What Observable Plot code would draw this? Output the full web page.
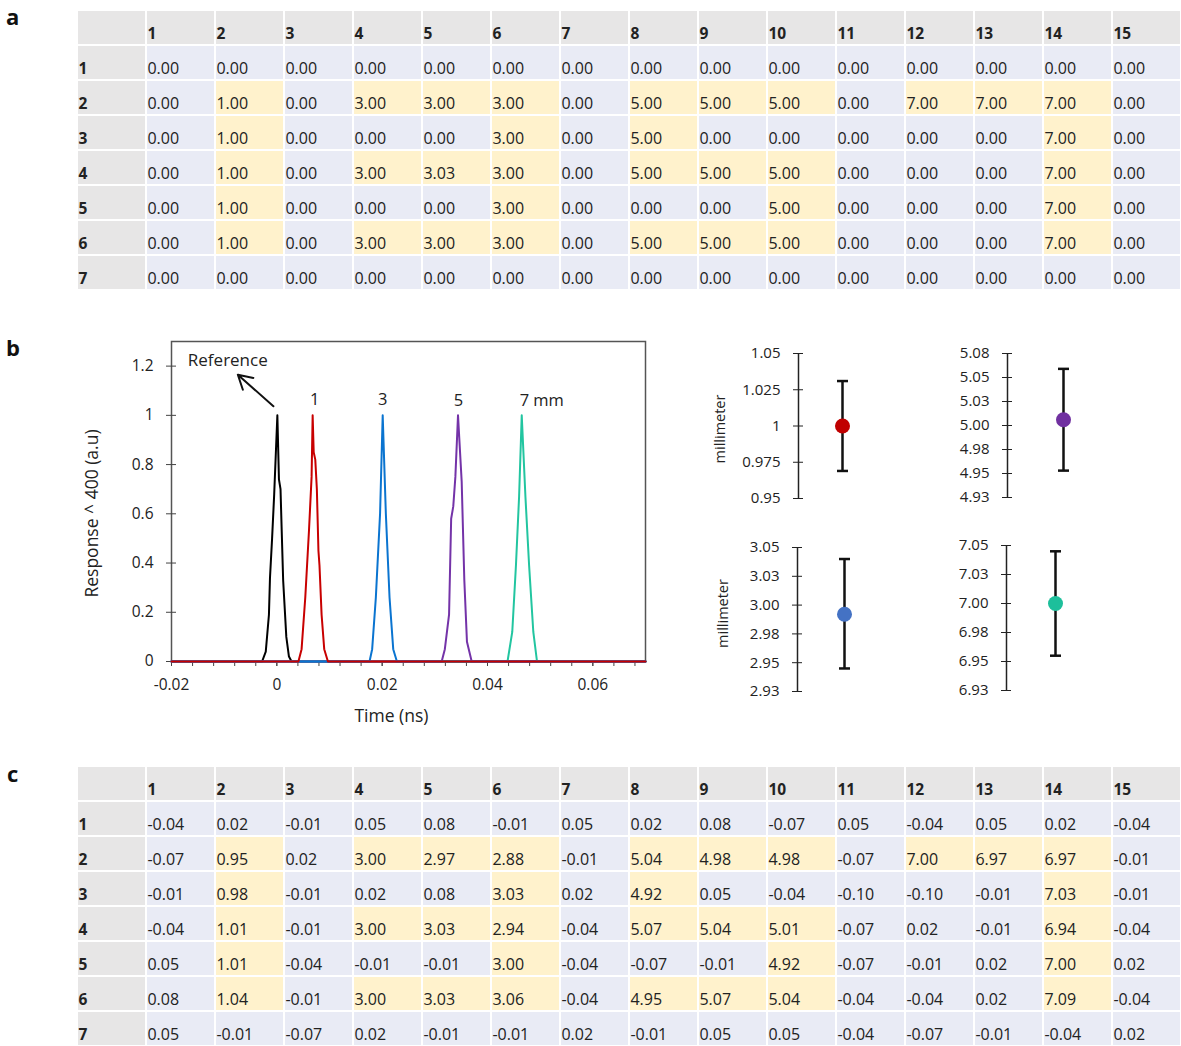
<!DOCTYPE html>
<html>
<head>
<meta charset="utf-8">
<script src="https://cdn.jsdelivr.net/npm/d3@7"></script>
<script src="https://cdn.jsdelivr.net/npm/@observablehq/plot@0.6"></script>
<style>
  html, body { margin: 0; padding: 0; background: #fff; }
  #root { position: relative; width: 1181px; height: 1046px; overflow: hidden; background: #fff; font-family: "Open Sans", sans-serif; }
  .panel { position: absolute; font-weight: bold; font-size: 22px; color: #111; line-height: 1; }
  .box { position: absolute; }
  .box svg { display: block; overflow: visible; max-width: none; }
</style>
</head>
<body>
<div id="root">
  <div class="panel" style="left:6px;top:5px;">a</div>
  <div class="panel" style="left:6px;top:336px;">b</div>
  <div class="panel" style="left:7px;top:762px;">c</div>
  <div class="box" id="tableA" style="left:76px;top:7px;"></div>
  <div class="box" id="chartB" style="left:60px;top:330px;"></div>
  <div class="box" id="err1" style="left:700px;top:340px;"></div>
  <div class="box" id="err5" style="left:910px;top:340px;"></div>
  <div class="box" id="err3" style="left:700px;top:534px;"></div>
  <div class="box" id="err7" style="left:910px;top:532px;"></div>
  <div class="box" id="tableC" style="left:76px;top:763px;"></div>
</div>
<script>
// ---------- Table data ----------
const colLabels = ["1","2","3","4","5","6","7","8","9","10","11","12","13","14","15"];
const rowLabels = ["1","2","3","4","5","6","7"];

const tableA = [
  [0.00,0.00,0.00,0.00,0.00,0.00,0.00,0.00,0.00,0.00,0.00,0.00,0.00,0.00,0.00],
  [0.00,1.00,0.00,3.00,3.00,3.00,0.00,5.00,5.00,5.00,0.00,7.00,7.00,7.00,0.00],
  [0.00,1.00,0.00,0.00,0.00,3.00,0.00,5.00,0.00,0.00,0.00,0.00,0.00,7.00,0.00],
  [0.00,1.00,0.00,3.00,3.03,3.00,0.00,5.00,5.00,5.00,0.00,0.00,0.00,7.00,0.00],
  [0.00,1.00,0.00,0.00,0.00,3.00,0.00,0.00,0.00,5.00,0.00,0.00,0.00,7.00,0.00],
  [0.00,1.00,0.00,3.00,3.00,3.00,0.00,5.00,5.00,5.00,0.00,0.00,0.00,7.00,0.00],
  [0.00,0.00,0.00,0.00,0.00,0.00,0.00,0.00,0.00,0.00,0.00,0.00,0.00,0.00,0.00]
];

const tableC = [
  [-0.04,0.02,-0.01,0.05,0.08,-0.01,0.05,0.02,0.08,-0.07,0.05,-0.04,0.05,0.02,-0.04],
  [-0.07,0.95,0.02,3.00,2.97,2.88,-0.01,5.04,4.98,4.98,-0.07,7.00,6.97,6.97,-0.01],
  [-0.01,0.98,-0.01,0.02,0.08,3.03,0.02,4.92,0.05,-0.04,-0.10,-0.10,-0.01,7.03,-0.01],
  [-0.04,1.01,-0.01,3.00,3.03,2.94,-0.04,5.07,5.04,5.01,-0.07,0.02,-0.01,6.94,-0.04],
  [0.05,1.01,-0.04,-0.01,-0.01,3.00,-0.04,-0.07,-0.01,4.92,-0.07,-0.01,0.02,7.00,0.02],
  [0.08,1.04,-0.01,3.00,3.03,3.06,-0.04,4.95,5.07,5.04,-0.04,-0.04,0.02,7.09,-0.04],
  [0.05,-0.01,-0.07,0.02,-0.01,-0.01,0.02,-0.01,0.05,0.05,-0.04,-0.07,-0.01,-0.04,0.02]
];

// ---------- Panel b: response curves ----------
const refT = [-0.02, -0.0028, -0.0021, -0.0015, -0.0013, -0.0009, -0.0005, 0.0001, 0.0004, 0.0007, 0.0009, 0.0012, 0.0018, 0.0023, 0.0028, 0.07];
const refR = [0, 0, 0.04, 0.19, 0.34, 0.5, 0.68, 1.0, 0.74, 0.7, 0.55, 0.33, 0.1, 0.02, 0, 0];
const mm1T = [-0.02, 0.0041, 0.0047, 0.0054, 0.0061, 0.0066, 0.0068, 0.0070, 0.0073, 0.0076, 0.0079, 0.0081, 0.0085, 0.0090, 0.0097, 0.07];
const mm1R = [0, 0, 0.05, 0.26, 0.53, 0.75, 1.0, 0.85, 0.82, 0.7, 0.45, 0.39, 0.19, 0.05, 0, 0];
const mm3T = [-0.02, 0.0176, 0.0181, 0.0188, 0.0196, 0.0201, 0.0207, 0.0214, 0.0221, 0.0228, 0.07];
const mm3R = [0, 0, 0.05, 0.26, 0.6, 1.0, 0.6, 0.26, 0.05, 0, 0];
const mm5T = [-0.02, 0.0313, 0.0319, 0.0327, 0.0331, 0.0335, 0.0339, 0.0344, 0.0351, 0.0356, 0.0361, 0.0370, 0.07];
const mm5R = [0, 0, 0.05, 0.19, 0.58, 0.63, 0.75, 1.0, 0.73, 0.33, 0.08, 0, 0];
const mm7T = [-0.02, 0.0438, 0.0447, 0.0454, 0.0460, 0.0465, 0.0472, 0.0479, 0.0487, 0.0494, 0.07];
const mm7R = [0, 0, 0.12, 0.39, 0.67, 1.0, 0.67, 0.39, 0.12, 0, 0];

const seriesNames = ["Reference", "7 mm", "5 mm", "3 mm", "1 mm"]; // drawing order
const seriesColors = ["#000000", "#22c5a0", "#7433a8", "#0a74d0", "#c80000"];

const peakLabels = ["1", "3", "5", "7 mm"];
const peakLabelT = [0.0072, 0.0201, 0.0345, 0.0461];
const peakLabelR = [1.065, 1.065, 1.058, 1.058];
const refLabel = ["Reference"];
const refLabelT = [-0.0169];
const refLabelR = [1.222];
const arrowFromT = [-0.00065], arrowFromR = [1.037];
const arrowToT = [-0.0074], arrowToR = [1.165];

const xMajorTicks = [-0.02, 0, 0.02, 0.04, 0.06];
const yTicks = [0, 0.2, 0.4, 0.6, 0.8, 1, 1.2];

// ---------- Panel b: error-bar summaries ----------
const errNames = ["1 mm", "3 mm", "5 mm", "7 mm"];
const errMeans = [1.000, 2.992, 5.006, 7.000];
const errLow   = [0.969, 2.945, 4.953, 6.955];
const errHigh  = [1.031, 3.040, 5.059, 7.045];
const errColors = ["#c00000", "#4472c4", "#7030a0", "#1dbf9b"];
const errTicks1 = [0.95, 0.975, 1, 1.025, 1.05];
const errLabels1 = ["0.95", "0.975", "1", "1.025", "1.05"];
const errTicks3 = [2.925, 2.95, 2.975, 3.0, 3.025, 3.05];
const errLabels3 = ["2.93", "2.95", "2.98", "3.00", "3.03", "3.05"];
const errTicks5 = [4.925, 4.95, 4.975, 5.0, 5.025, 5.05, 5.075];
const errLabels5 = ["4.93", "4.95", "4.98", "5.00", "5.03", "5.05", "5.08"];
const errTicks7 = [6.925, 6.95, 6.975, 7.0, 7.025, 7.05];
const errLabels7 = ["6.93", "6.95", "6.98", "7.00", "7.03", "7.05"];

// ---------- Colours ----------
const headFill = "#e7e6e6", bodyFill = "#e9ebf5", hiFill = "#fff2cc", textCol = "#222";

// ---------- Table builder ----------
function makeTable(values, mask) {
  const W = 1105, H = 286;
  const xDom = [""].concat(colLabels);
  const yDom = [""].concat(rowLabels);
  const bw = W / xDom.length;
  const cells = [];
  const texts = [];
  const heads = [];
  cells.push({c: "", r: "", fill: headFill});
  colLabels.forEach(c => { cells.push({c, r: "", fill: headFill}); heads.push({c, r: "", t: c}); });
  rowLabels.forEach((r, i) => {
    cells.push({c: "", r, fill: headFill});
    heads.push({c: "", r, t: r});
    colLabels.forEach((c, j) => {
      const hi = mask[i][j] !== 0;
      cells.push({c, r, fill: hi ? hiFill : bodyFill});
      texts.push({c, r, t: values[i][j].toFixed(2)});
    });
  });
  return Plot.plot({
    width: W, height: H, margin: 0,
    style: {fontFamily: "Open Sans", background: "transparent"},
    x: {type: "band", domain: xDom, padding: 0, axis: null},
    y: {type: "band", domain: yDom, padding: 0, axis: null},
    color: {type: "identity"},
    marks: [
      Plot.cell(cells, {x: "c", y: "r", fill: "fill", inset: 1}),
      Plot.text(texts, {x: "c", y: "r", text: "t", textAnchor: "start", dx: -bw / 2 + 1, dy: 6, fontSize: 16, fill: textCol}),
      Plot.text(heads, {x: "c", y: "r", text: "t", textAnchor: "start", dx: -bw / 2 + 1, dy: 6, fontSize: 15.5, fontWeight: "bold", fill: textCol})
    ]
  });
}

document.getElementById("tableA").append(makeTable(tableA, tableA));
document.getElementById("tableC").append(makeTable(tableC, tableA));

// ---------- Main chart ----------
const seriesData = {
  "Reference": [refT, refR], "1 mm": [mm1T, mm1R], "3 mm": [mm3T, mm3R],
  "5 mm": [mm5T, mm5R], "7 mm": [mm7T, mm7R]
};
const curveRows = [];
seriesNames.forEach(name => {
  const [t, r] = seriesData[name];
  t.forEach((tv, i) => curveRows.push({series: name, t: tv, r: r[i]}));
});
const peakRows = peakLabels.map((s, i) => ({s, t: peakLabelT[i], r: peakLabelR[i]}));
const refRows = refLabel.map((s, i) => ({s, t: refLabelT[i], r: refLabelR[i]}));
const arrowRows = arrowFromT.map((t, i) => ({t1: t, r1: arrowFromR[i], t2: arrowToT[i], r2: arrowToR[i]}));

const chart = Plot.plot({
  width: 600, height: 400,
  marginLeft: 111, marginRight: 15, marginTop: 11, marginBottom: 69,
  style: {fontFamily: "Open Sans", fontSize: "15.5px", color: "#222", background: "transparent"},
  x: {domain: [-0.02, 0.07]},
  y: {domain: [0, 1.3]},
  color: {domain: seriesNames, range: seriesColors},
  marks: [
    Plot.frame({stroke: "#555", strokeWidth: 1.5}),
    Plot.axisX({interval: 0.004, tickSize: 5, tickFormat: () => "", stroke: "#444", label: null}),
    Plot.axisX({ticks: xMajorTicks, tickSize: 5, tickPadding: 12, tickFormat: d => String(d), fontSize: 15.5, stroke: "#444", label: null}),
    Plot.axisY({ticks: yTicks, tickSize: 10, dx: 5, tickPadding: 13, tickFormat: d => String(d), fontSize: 15.5, stroke: "#444", label: null}),
    Plot.line(curveRows, {x: "t", y: "r", z: "series", stroke: "series", strokeWidth: 2}),
    Plot.text(peakRows.slice(0, 3), {x: "t", y: "r", text: "s", fontSize: 16.5, textAnchor: "middle"}),
    Plot.text(peakRows.slice(3), {x: "t", y: "r", text: "s", fontSize: 16.5, textAnchor: "start"}),
    Plot.text(refRows, {x: "t", y: "r", text: "s", fontSize: 17, textAnchor: "start"}),
    Plot.arrow(arrowRows, {x1: "t1", y1: "r1", x2: "t2", y2: "r2", stroke: "#111", strokeWidth: 2, headLength: 12}),
    Plot.text(["Response ^ 400 (a.u)"], {frameAnchor: "left", textAnchor: "middle", lineAnchor: "middle", rotate: -90, dx: -79, dy: 12, fontSize: 17.5}),
    Plot.text(["Time (ns)"], {frameAnchor: "bottom", textAnchor: "middle", lineAnchor: "middle", dx: -17, dy: 55, fontSize: 17.5})
  ]
});
document.getElementById("chartB").append(chart);

// ---------- Error plots ----------
const capSymbol = {draw(ctx) { ctx.moveTo(-5.5, 0); ctx.lineTo(5.5, 0); }};
function errPlot(k, ticks, labels, opts) {
  const row = [{cat: "mean", m: errMeans[k], lo: errLow[k], hi: errHigh[k], fill: errColors[k]}];
  const marks = [
    Plot.ruleX(["axis"], {x: d => d, stroke: "#222", strokeWidth: 1.5}),
    Plot.axisY({ticks, tickSize: 10, dx: 5, tickPadding: 13, tickFormat: d => labels[ticks.indexOf(d)], fontSize: 15, stroke: "#222", label: null}),
    Plot.ruleX(row, {x: "cat", y1: "lo", y2: "hi", stroke: "#111", strokeWidth: 2.5}),
    Plot.dot(row, {x: "cat", y: "lo", symbol: capSymbol, stroke: "#111", strokeWidth: 2.5, r: 5}),
    Plot.dot(row, {x: "cat", y: "hi", symbol: capSymbol, stroke: "#111", strokeWidth: 2.5, r: 5}),
    Plot.dot(row, {x: "cat", y: "m", fill: "fill", r: 7.5})
  ];
  if (opts.ylabel) marks.push(Plot.text(["millimeter"], {frameAnchor: "left", textAnchor: "middle", lineAnchor: "middle", rotate: -90, dx: opts.labelDx, dy: opts.labelDy || 0, fontSize: 14.5}));
  return Plot.plot({
    width: opts.w, height: opts.h,
    marginLeft: opts.mL, marginRight: opts.mR, marginTop: opts.mT, marginBottom: opts.mB,
    style: {fontFamily: "Open Sans", color: "#222", background: "transparent"},
    x: {type: "point", domain: ["axis", "mean"], padding: 0, axis: null},
    y: {domain: [ticks[0], ticks[ticks.length - 1]]},
    color: {type: "identity"},
    marks
  });
}
document.getElementById("err1").append(errPlot(0, errTicks1, errLabels1, {w: 200, h: 170, mL: 98, mR: 58, mT: 13, mB: 12, ylabel: true, labelDx: -78, labelDy: 3}));
document.getElementById("err5").append(errPlot(2, errTicks5, errLabels5, {w: 240, h: 170, mL: 97, mR: 87, mT: 13, mB: 13}));
document.getElementById("err3").append(errPlot(1, errTicks3, errLabels3, {w: 200, h: 170, mL: 97, mR: 56, mT: 13, mB: 13, ylabel: true, labelDx: -74, labelDy: -6}));
document.getElementById("err7").append(errPlot(3, errTicks7, errLabels7, {w: 240, h: 170, mL: 96, mR: 95, mT: 13, mB: 12}));
</script>
</body>
</html>
